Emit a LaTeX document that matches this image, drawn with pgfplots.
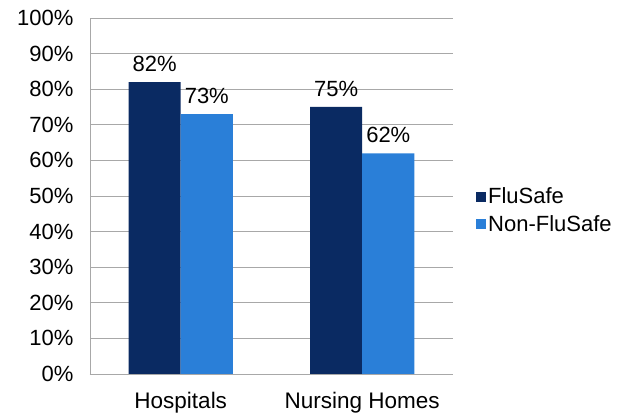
\documentclass[border=0pt]{standalone}
\usepackage{pgfplots}
\pgfplotsset{compat=1.18}
\usepackage{fontspec}
\setmainfont{Liberation Sans}
\definecolor{flusafe}{HTML}{0A2A62}
\definecolor{nonflusafe}{HTML}{2A7FD8}
\definecolor{gridgray}{HTML}{A8A8A8}
\begin{document}
\begin{tikzpicture}
\useasboundingbox (-90pt,-41pt) rectangle (540pt,374pt);
\begin{axis}[
  at={(0pt,0pt)}, anchor=south west,
  scale only axis, width=363pt, height=356pt,
  ybar=0pt, bar width=0.287,
  xmin=-0.5, xmax=1.5, ymin=0, ymax=100,
  xtick={0,1}, xticklabels={Hospitals, Nursing Homes},
  ytick={0,10,...,100},
  yticklabels={0\%,10\%,20\%,30\%,40\%,50\%,60\%,70\%,80\%,90\%,100\%},
  major tick length=0pt,
  axis x line*=bottom, axis y line*=left,
  axis line style={gridgray, line width=0.8pt},
  ymajorgrids, grid style={gridgray, line width=0.8pt},
  tick label style={font=\fontsize{22}{24}\selectfont, text=black},
  yticklabel style={xshift=-13pt},
  xticklabel style={yshift=-15pt, font=\fontsize{22.5}{24}\selectfont},
  nodes near coords={\pgfmathprintnumber[assume math mode=true]{\pgfplotspointmeta}\%},
  nodes near coords style={font=\fontsize{22}{24}\selectfont, text=black, yshift=7pt},
  legend style={at={(1.055,0.46)}, anchor=west, draw=none, fill=none,
    font=\fontsize{22}{24}\selectfont, row sep=6pt,
    legend cell align=left},
  legend image code/.code={\fill[#1] (0pt,-5pt) rectangle (10pt,5pt);},
]
\addplot[fill=flusafe, draw=none] coordinates {(0,82) (1,75)};
\addlegendentry{FluSafe}
\addplot[fill=nonflusafe, draw=none] coordinates {(0,73) (1,62)};
\addlegendentry{Non-FluSafe}
\end{axis}
\end{tikzpicture}
\end{document}
